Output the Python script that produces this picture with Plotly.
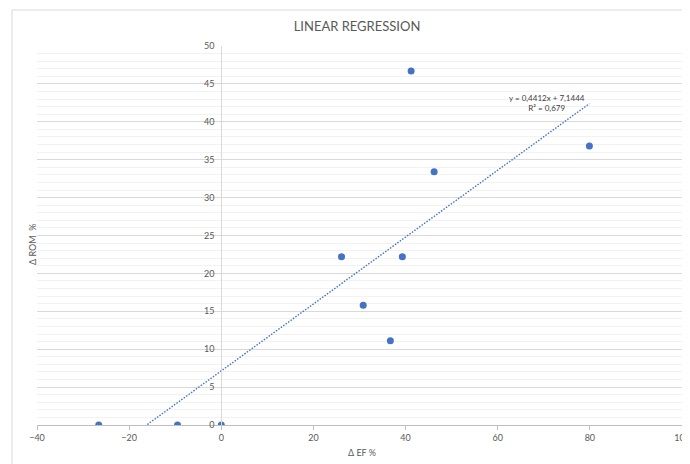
import plotly.graph_objects as go

# Data
ef_change = [-26.6, -9.5, 0.0, 26.1, 30.8, 36.7, 39.3, 41.2, 46.2, 79.9]
rom_change = [0.0, 0.0, 0.0, 22.2, 15.8, 11.1, 22.2, 46.7, 33.4, 36.8]
slope = 0.4412
intercept = 7.1444
r_squared = 0.679
x_ticks = [-40, -20, 0, 20, 40, 60, 80, 100]
y_ticks = [0, 5, 10, 15, 20, 25, 30, 35, 40, 45, 50]

blue = "#4472C4"
grey_text = "#595959"
font_family = "Lato, 'Open Sans', sans-serif"

trend_x = [min(ef_change), max(ef_change)]
trend_y = [slope * v + intercept for v in trend_x]

fig = go.Figure()
fig.add_trace(go.Scatter(
    x=trend_x, y=trend_y, mode="lines",
    line=dict(color=blue, width=1.4, dash="1.5px,1.5px"),
    hoverinfo="skip", showlegend=False,
))
fig.add_trace(go.Scatter(
    x=ef_change, y=rom_change, mode="markers",
    marker=dict(color=blue, size=7),
    showlegend=False,
))

# page offset (default body margin)
OFF = 8
W, H = 690 - OFF, 464 - OFF
# plot area in page pixels
PL, PR, PT, PB = 37, 682, 46, 425
ml = PL - OFF
mt = PT - OFF
mr = (W + OFF) - PR
mb = (H + OFF) - PB
pw = PR - PL
ph = PB - PT

def px_to_paper_x(px):
    return (px - PL) / pw

def px_to_paper_y(py):
    return (PB - py) / ph

fig.update_layout(
    width=W, height=H,
    margin=dict(l=ml, r=mr, t=mt, b=mb, autoexpand=False),
    paper_bgcolor="white", plot_bgcolor="white",
    font=dict(family=font_family, color=grey_text, size=9),
    title=dict(text="LINEAR REGRESSION", x=px_to_paper_x(357), xanchor="center",
               xref="paper",
               y=1 - (26 - OFF) / H, yanchor="middle",
               font=dict(size=13, color=grey_text, family=font_family)),
    xaxis=dict(
        range=[-40, 100], tickvals=x_ticks, showgrid=False, zeroline=False,
        showline=True, linecolor="#bfbfbf", linewidth=1,
        ticks="outside", ticklen=4, tickcolor="#bfbfbf",
        ticklabeloverflow="allow",
        tickfont=dict(size=9, color=grey_text),
    ),
    yaxis=dict(
        range=[0, 50], tickvals=y_ticks, zeroline=False,
        anchor="free", position=(0 - (-40)) / 140,
        showline=True, linecolor="#d9d9d9", linewidth=1,
        showgrid=True, gridcolor="#d9d9d9", gridwidth=1,
        minor=dict(dtick=1, showgrid=True, gridcolor="#f2f2f2", gridwidth=1),
        ticks="", ticklabelstandoff=5,
        tickfont=dict(size=9, color=grey_text),
    ),
    shapes=[dict(
        type="rect", xref="paper", yref="paper", layer="below",
        x0=px_to_paper_x(12), x1=px_to_paper_x(700),
        y0=px_to_paper_y(470), y1=px_to_paper_y(10),
        line=dict(color="#d9d9d9", width=1), fillcolor="rgba(0,0,0,0)",
    )],
    annotations=[
        dict(text="Δ ROM  %", xref="paper", yref="paper",
             x=px_to_paper_x(32), y=px_to_paper_y(245), textangle=-90,
             showarrow=False, xanchor="center", yanchor="middle",
             font=dict(size=9, color=grey_text)),
        dict(text="Δ EF %", xref="paper", yref="paper",
             x=px_to_paper_x(362), y=px_to_paper_y(452),
             showarrow=False, xanchor="center", yanchor="middle",
             font=dict(size=9, color=grey_text)),
        dict(text=f"y = {slope:.4f}x + {intercept:.4f}".replace(".", ",")
             + f"<br>R² = {r_squared:.3f}".replace(".", ","),
             xref="paper", yref="paper",
             x=px_to_paper_x(547), y=px_to_paper_y(103),
             showarrow=False, xanchor="center", yanchor="middle", align="center",
             font=dict(size=8, color="#404040")),
    ],
)

fig.write_html("out.html")
